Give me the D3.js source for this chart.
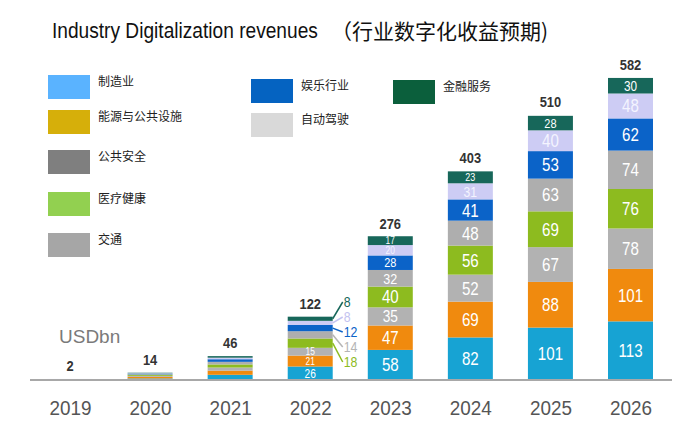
<!DOCTYPE html>
<html><head><meta charset="utf-8">
<script src="https://cdn.jsdelivr.net/npm/d3@7"></script>
<style>
html,body{margin:0;padding:0;background:#fff;}
svg{display:block;}
.narrow{font-family:'Liberation Sans Narrow','Arial Narrow','Liberation Sans',Arial,sans-serif;}
.cjk{font-family:'Noto Sans CJK SC','Noto Sans',sans-serif;}
</style></head>
<body>
<script>
// ---------- data ----------
const years = ["2019","2020","2021","2022","2023","2024","2025","2026"];
const totals = [2,14,46,122,276,403,510,582];
const seriesNames = ["制造业","能源与公共设施","公共安全","医疗健康","交通","娱乐行业","自动驾驶","金融服务"];
// segment values bottom -> top, per series
const manufacturing = [0.6,3,10,26,58,82,101,113];
const energy        = [0.4,3,8,21,47,69,88,101];
const publicSafety  = [0.3,2,6,15,35,52,67,78];
const healthcare    = [0.3,2,6,18,40,56,69,76];
const transport     = [0.2,1,5,14,32,48,63,74];
const entertainment = [0.1,1,5,12,28,41,53,62];
const autoDriving   = [0.1,1,3,8,20,31,40,48];
const finance       = [0.0,1,3,8,17,23,28,30];
const seriesValues = [manufacturing,energy,publicSafety,healthcare,transport,entertainment,autoDriving,finance];

const barColors = ["#17A3D3","#F08A0E","#B2B2B2","#8DBB1F","#AEAEAE","#0B63C8","#CDCCF4","#17675A"];
const legendColors = ["#5AB3FF","#D6AF0A","#7F7F7F","#92D050","#A6A6A6","#0563C1","#D9D9D9","#0B5F3C"];

const W=680,H=427;
const svg=d3.select("body").append("svg").attr("width",W).attr("height",H);

const x=d3.scalePoint().domain(years).range([70,630.5]);
const y=d3.scaleLinear().domain([0,600]).range([380,68.6]);
const bw=45;

// narrow text helper (horizontal condense)
function ntext(px,py,str,fs,fill,opts){
  opts=opts||{};
  const t=svg.append("text").attr("class","narrow")
    .attr("transform",`translate(${px},${py}) scale(${opts.sx||0.82},1)`)
    .attr("font-size",fs).attr("fill",fill)
    .attr("text-anchor",opts.anchor||"start").text(str);
  if(opts.bold) t.attr("font-weight","bold");
  return t;
}

// title
ntext(52,38,"Industry Digitalization revenues",22,"#111",{sx:0.87});
svg.append("text").attr("class","cjk").attr("x",331).attr("y",39).attr("font-size",21).attr("fill","#111")
  .text("（行业数字化收益预期)");

// legend
const legendPos=[[48,75],[48,110],[48,150],[48,192],[48,233],[251,79],[251,113],[393,80]];
seriesNames.forEach((n,i)=>{
  const [lx,ly]=legendPos[i];
  svg.append("rect").attr("x",lx).attr("y",ly).attr("width",42).attr("height",24).attr("fill",legendColors[i]);
  svg.append("text").attr("class","cjk").attr("x",lx+50).attr("y",ly+11).attr("font-size",12)
    .attr("fill","#222").text(n);
});

// stacked data
const rows=years.map((yr,j)=>{const o={year:yr};seriesNames.forEach((n,i)=>o[n]=seriesValues[i][j]);return o;});
const stack=d3.stack().keys(seriesNames)(rows);

const g=svg.append("g");
stack.forEach((layer,i)=>{
  g.selectAll(null).data(layer).enter().append("rect")
    .attr("x",d=>x(d.data.year)-bw/2)
    .attr("y",d=>y(d[1]))
    .attr("width",bw)
    .attr("height",d=>Math.max(0,y(d[0])-y(d[1])))
    .attr("fill",barColors[i]);
});

// inside segment labels
stack.forEach((layer,i)=>{
  layer.forEach(d=>{
    const yr=+d.data.year, v=d[1]-d[0];
    const inside = yr>=2023 || (yr===2022 && i<3);
    if(!inside) return;
    const h=y(d[0])-y(d[1]);
    const fs=Math.max(10,Math.min(18,h*0.9));
    ntext(x(d.data.year),(y(d[0])+y(d[1]))/2+fs*0.36,v,fs,i===6?"#f4f4ff":"#fff",{anchor:"middle",sx:0.84});
  });
});

// 2022 outside labels with leaders
stack.forEach((layer,i)=>{
  if(i<3) return;
  const d=layer[3];
  const v=d[1]-d[0];
  const xr=x("2022")+bw/2;
  const my=(y(d[0])+y(d[1]))/2;
  const ly=y(0)-18-(i-3)*15;
  const col=i===6?"#C4C3F0":(i===4?"#B5B5B5":barColors[i]);
  svg.append("line").attr("x1",xr).attr("y1",my).attr("x2",xr+10).attr("y2",ly)
    .attr("stroke",col).attr("stroke-width",1.5);
  ntext(xr+11,ly+5,v,14.5,col,{sx:0.85});
});

// totals
years.forEach((yr,j)=>{
  ntext(x(yr),y(totals[j])-8,totals[j],15,"#333",{anchor:"middle",bold:true,sx:0.86});
});

// baseline
svg.append("line").attr("x1",30).attr("x2",672).attr("y1",380).attr("y2",380)
  .attr("stroke","#A8A8A8").attr("stroke-width",2);

// x axis labels
const ax=d3.axisBottom(x).tickSize(0).tickPadding(0);
const axg=svg.append("g").attr("transform","translate(0,380)").call(ax);
axg.select(".domain").remove();
axg.selectAll("text").attr("class","narrow").attr("font-size",21).attr("fill","#555")
  .attr("dy",0).attr("y",0).attr("transform","translate(0,35) scale(0.9,1)");

// unit
svg.append("text").attr("class","narrow").attr("x",59).attr("y",343).attr("font-size",19).attr("fill","#7a7a7a").text("USDbn");
</script>
</body></html>
